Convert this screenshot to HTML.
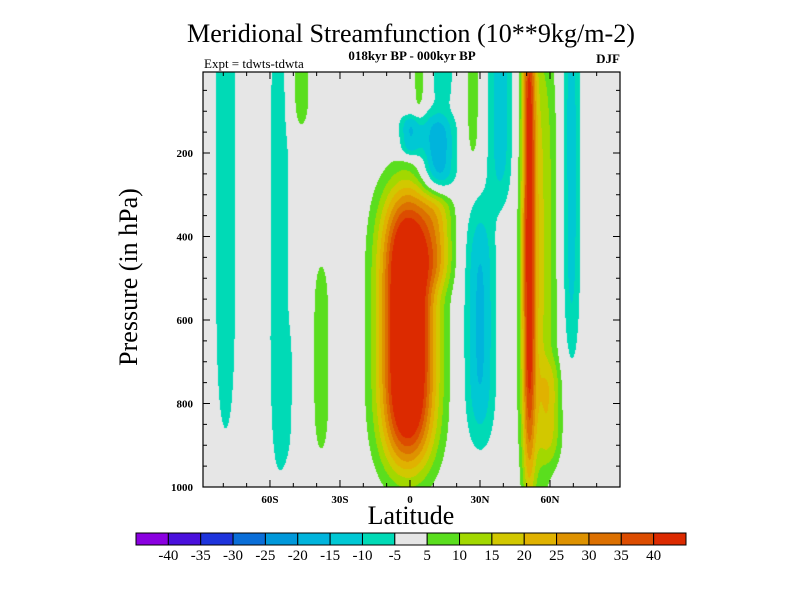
<!DOCTYPE html>
<html><head><meta charset="utf-8"><style>
html,body{margin:0;padding:0;background:#fff;}
#wrap{position:relative;width:800px;height:600px;overflow:hidden;}
#field{position:absolute;left:203px;top:72px;}
svg{position:absolute;left:0;top:0;}
text{font-family:"Liberation Serif",serif;fill:#000;}
</style></head><body>
<div id="wrap">
<canvas id="field" width="417" height="415"></canvas>
<svg id="svg" width="800" height="600">
<text x="411" y="42" font-size="26" text-anchor="middle" textLength="448" lengthAdjust="spacingAndGlyphs">Meridional Streamfunction (10**9kg/m-2)</text>
<text x="412" y="60" font-size="13" font-weight="bold" text-anchor="middle">018kyr BP - 000kyr BP</text>
<text x="204" y="68" font-size="13">Expt = tdwts-tdwta</text>
<text x="620" y="63" font-size="13" font-weight="bold" text-anchor="end">DJF</text>
<text x="411" y="524" font-size="26" text-anchor="middle">Latitude</text>
<text x="0" y="0" font-size="26" text-anchor="middle" transform="translate(137,277) rotate(-90)">Pressure (in hPa)</text>
<g id="axes"></g>
<g id="cbar"></g>
</svg>
</div>
<script>
// ---- data ----
const latRange=[-88.7,90];
const pRange=[6,1000];
const xTickLats=[-60,-30,0,30,60];
const xTickLabels=["60S","30S","0","30N","60N"];
const yTickPs=[200,400,600,800,1000];
const yTickLabels=["200","400","600","800","1000"];
const levels=[-40,-35,-30,-25,-20,-15,-10,-5,5,10,15,20,25,30,35,40];
const levelLabels=["-40","-35","-30","-25","-20","-15","-10","-5","5","10","15","20","25","30","35","40"];
const colors=["#8a00e0","#4a10dc","#1e34dc","#0a6ed8","#0098da","#00b4dc","#00c8d4","#00dab6","#e6e6e6","#5ade1e","#a2d800","#d2c800","#e0b200","#de9200","#dc7000","#dc4c00","#dc2a00"];
// blob features of streamfunction field
const blobLat=[-79,-56,-47,-38,-1,0,12,39,30,14,27,4,51,55,60,69,12,-53];
const blobP  =[300,400,20,690,620,160,200,100,610,0,50,0,350,450,820,250,400,780];
const blobWLat=[6,5.5,5,4.4,11.7,4.8,7.2,6,6.6,5,3.5,2.5,2.8,8,5,4.1,7,4];
const blobWP =[676,652,140,263,330,51,100,230,290,90,190,110,650,560,120,465,120,160];
const blobAmp=[-8,-8,8,8,60,-15,-20,-13,-16,-9,8,8,34,16,10,-13,13,-3];

// ---- axis functions ----
const X0=203,X1=620,Y0=72,Y1=487;
function xOf(lat){return X0+(lat-latRange[0])/(latRange[1]-latRange[0])*(X1-X0);}
function yOf(p){return Y0+(p-pRange[0])/(pRange[1]-pRange[0])*(Y1-Y0);}
function latOf(x){return latRange[0]+(x-X0)/(X1-X0)*(latRange[1]-latRange[0]);}
function pOf(y){return pRange[0]+(y-Y0)/(Y1-Y0)*(pRange[1]-pRange[0]);}
function field(lat,p){
  let v=0;
  for(let i=0;i<blobLat.length;i++){
    const a=(lat-blobLat[i])/blobWLat[i], b=(p-blobP[i])/blobWP[i];
    v+=blobAmp[i]*Math.exp(-(a*a+b*b*b*b));
  }
  return v;
}
function colorIndex(v){let k=0;for(const l of levels){if(v>=l)k++;}return k;}
function hex(c){return [parseInt(c.substr(1,2),16),parseInt(c.substr(3,2),16),parseInt(c.substr(5,2),16)];}

// ---- draw field ----
const cv=document.getElementById('field');
const ctx=cv.getContext('2d');
const W=cv.width,H=cv.height;
const img=ctx.createImageData(W,H);
const rgb=colors.map(hex);
for(let j=0;j<H;j++){
  const p=pOf(Y0+j+0.5);
  for(let i=0;i<W;i++){
    const c=rgb[colorIndex(field(latOf(X0+i+0.5),p))];
    const o=(j*W+i)*4;
    img.data[o]=c[0];img.data[o+1]=c[1];img.data[o+2]=c[2];img.data[o+3]=255;
  }
}
ctx.putImageData(img,0,0);

// ---- axes ----
const NS='http://www.w3.org/2000/svg';
const axes=document.getElementById('axes');
function mk(tag,attrs,parent){const e=document.createElementNS(NS,tag);for(const k in attrs)e.setAttribute(k,attrs[k]);parent.appendChild(e);return e;}
let frame=mk('rect',{x:X0,y:Y0,width:X1-X0,height:Y1-Y0,fill:'none',stroke:'#000','stroke-width':1.2},axes);


for(let lat=-80;lat<=90;lat+=10){
  const x=xOf(lat), major=(lat%30===0), L=major?7:4;
  let t=mk('line',{x1:x,x2:x,y1:Y1,y2:Y1-L,stroke:'#000'},axes);
  
  
  let t2=mk('line',{x1:x,x2:x,y1:Y0,y2:Y0+L,stroke:'#000'},axes);
  
  
}
xTickLats.forEach((lat,i)=>{
  const t=mk('text',{x:xOf(lat),y:Y1+16,'font-size':11,'font-weight':'bold','text-anchor':'middle'},axes);
  t.textContent=xTickLabels[i];
  
  
});
for(let p=50;p<=1000;p+=50){
  const y=yOf(p), major=(p%200===0), L=major?7:4;
  let t=mk('line',{x1:X0,x2:X0+L,y1:y,y2:y,stroke:'#000'},axes);
  
  
  let t2=mk('line',{x1:X1,x2:X1-L,y1:y,y2:y,stroke:'#000'},axes);
  
  
}
yTickPs.forEach((p,i)=>{
  const t=mk('text',{x:X0-10,y:yOf(p)+4,'font-size':11,'font-weight':'bold','text-anchor':'end'},axes);
  t.textContent=yTickLabels[i];
  
  
});

// ---- colorbar ----
const cb=document.getElementById('cbar');
const CB0=136,CB1=686,CBY=533,CBH=12,bw=(CB1-CB0)/colors.length;
colors.forEach((c,i)=>{
  const r=mk('rect',{x:CB0+i*bw,y:CBY,width:bw,height:CBH,fill:c,stroke:'#000','stroke-width':1},cb);
  
  
});
levelLabels.forEach((s,i)=>{
  const t=mk('text',{x:CB0+(i+1)*bw,y:CBY+CBH+15,'font-size':15,'text-anchor':'middle'},cb);
  t.textContent=s;
  
  
});
</script>
</body></html>
